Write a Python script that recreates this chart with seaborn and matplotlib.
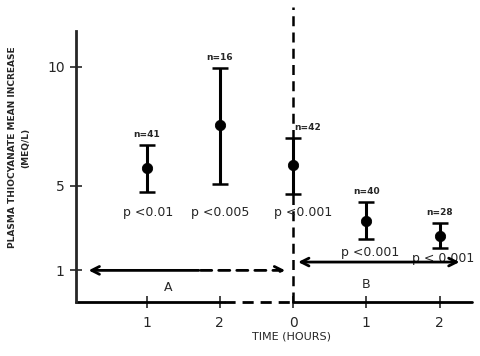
import matplotlib
matplotlib.use("Agg")
import matplotlib.pyplot as plt
import seaborn as sns
import pandas as pd

# ---- data ----
positions = [1, 2, 3, 4, 5]
tick_labels = ["1", "2", "0", "1", "2"]
means = [5.76, 7.56, 5.88, 3.53, 2.90]
err_low = [4.75, 5.08, 4.66, 2.77, 2.40]
err_high = [6.72, 9.96, 7.00, 4.33, 3.45]
n_labels = ["n=41", "n=16", "n=42", "n=40", "n=28"]
p_labels = ["p <0.01", "p <0.005", "p <0.001", "p <0.001", "p < 0.001"]
ytick_pos = [1.45, 5, 10]
ytick_labels = ["1", "5", "10"]

sns.set_style("ticks")
plt.rcParams['font.family'] = ['DejaVu Sans']

fig = plt.figure(figsize=(4.8, 3.56), dpi=100)
ax = fig.add_axes([0.158, 0.152, 0.825, 0.761])

df = pd.DataFrame({"x": positions, "mean": means, "lo": err_low, "hi": err_high})
lower = [m - l for m, l in zip(means, err_low)]
upper = [h - m for m, h in zip(means, err_high)]
ax.errorbar(df["x"], df["mean"], yerr=[lower, upper], fmt="none",
            ecolor="black", elinewidth=2.2, capsize=6, capthick=1.8, zorder=2)
sns.scatterplot(data=df, x="x", y="mean", ax=ax, color="black", s=55,
                edgecolor="black", zorder=3, legend=False)

ax.set_xlim(0.034, 5.44)
ax.set_ylim(0.126, 11.51)
y0 = 0.126

# x axis drawn manually (dashed between 2 and 0)
ax.spines["bottom"].set_visible(False)
ax.spines["right"].set_visible(False)
ax.spines["top"].set_visible(False)
ax.spines["left"].set_linewidth(2)
ax.plot([0.034, 2.05], [y0, y0], color="black", lw=2, clip_on=False)
ax.plot([2.05, 3.0], [y0, y0], color="black", lw=2, ls=(0, (4, 2.5)), clip_on=False)
ax.plot([3.0, 5.44], [y0, y0], color="black", lw=2, clip_on=False)

# vertical dashed line at time 0
ax.plot([3.0, 3.0], [y0, 12.5], color="black", lw=1.8, ls=(0, (4, 2.5)), clip_on=False)

ax.set_xticks(positions)
ax.set_xticklabels(tick_labels, fontsize=10)
ax.set_yticks(ytick_pos)
ax.set_yticklabels(ytick_labels, fontsize=10)
ax.tick_params(axis="both", direction="inout", length=8, width=1.2, pad=6)
ax.tick_params(axis="y", pad=4)

# n and p labels
for x, hi, lab in zip(positions, err_high, n_labels):
    ha = "left" if x == 3 else "center"
    xx = x + 0.02 if x == 3 else x
    ax.text(xx, hi + 0.25, lab, fontsize=6.5, fontweight="bold", ha=ha, va="bottom")

p_xy = [(1.02, 3.9), (2.0, 3.9), (3.13, 3.9), (4.05, 2.2), (5.05, 1.95)]
for (x, y), lab in zip(p_xy, p_labels):
    ax.text(x, y, lab, fontsize=9, ha="center", va="center")

# A and B arrows
ax.annotate("", xy=(0.17, 1.45), xytext=(1.75, 1.45),
            arrowprops=dict(arrowstyle="->", lw=2, color="black", mutation_scale=14))
ax.annotate("", xy=(2.93, 1.45), xytext=(1.7, 1.45),
            arrowprops=dict(arrowstyle="->", lw=2, color="black", ls=(0, (4, 2.5)),
                            mutation_scale=14))
ax.annotate("", xy=(3.03, 1.8), xytext=(5.31, 1.8),
            arrowprops=dict(arrowstyle="<->", lw=2, color="black", mutation_scale=14))
ax.text(1.3, 0.72, "A", fontsize=9, ha="center", va="center")
ax.text(4.0, 0.85, "B", fontsize=9, ha="center", va="center")

ax.set_xlabel("TIME (HOURS)", fontsize=8)
ax.xaxis.set_label_coords(0.545, -0.11)
ax.set_ylabel("PLASMA THIOCYANATE MEAN INCREASE\n(MEQ/L)", fontsize=6.5,
              fontweight="bold", linespacing=1.6)
ax.yaxis.set_label_coords(-0.115, 0.57)

fig.savefig("out.png", dpi=100)
